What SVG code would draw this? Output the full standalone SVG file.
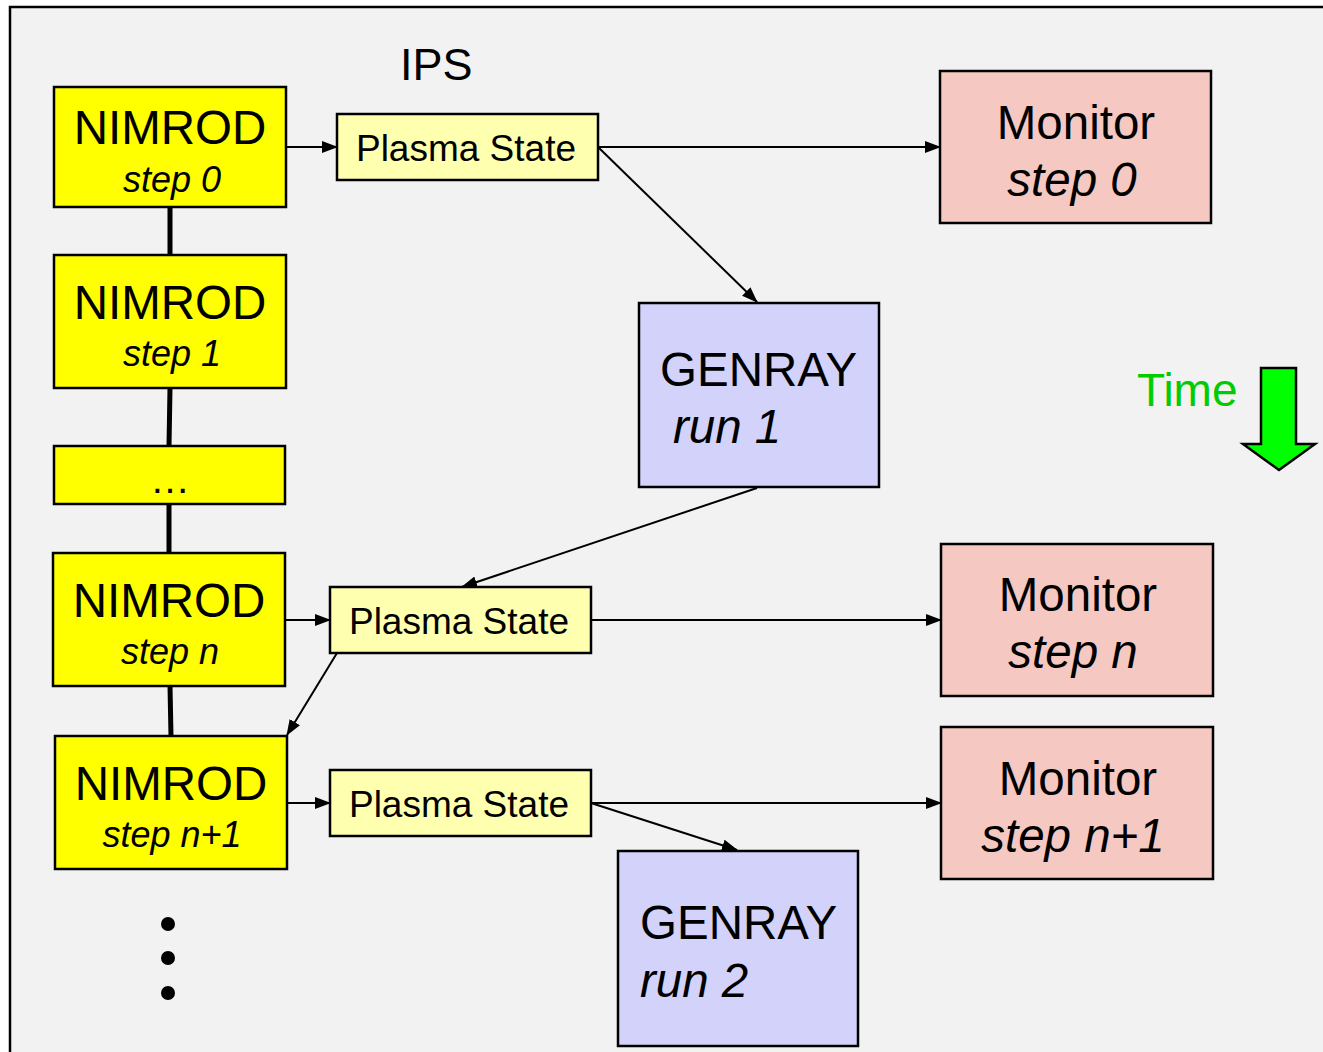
<svg xmlns="http://www.w3.org/2000/svg" width="1323" height="1052" viewBox="0 0 1323 1052">
<defs>
<marker id="ah" markerWidth="16" markerHeight="12" refX="15" refY="6" orient="auto" markerUnits="userSpaceOnUse">
<path d="M0,0 L16,6 L0,12 Z" fill="#000"/>
</marker>
<style>
text{font-family:"Liberation Sans",Arial,sans-serif;fill:#000}
.box{stroke:#000;stroke-width:2.5}
.nim{fill:#ffff00}
.ps{fill:#ffffb0}
.mon{fill:#f5c8c2}
.gen{fill:#d2d2fa}
.big{font-size:47.5px}
.it{font-style:italic;font-size:36px}
.psl{font-size:37px}
.c{text-anchor:middle}
.conn line{stroke:#000;stroke-width:2;marker-end:url(#ah)}
.link{stroke:#000;stroke-width:5}
</style>
</defs>
<rect x="0" y="0" width="1323" height="1052" fill="#ffffff"/>
<rect x="10" y="7" width="1330" height="1060" fill="#f2f2f2" stroke="#000" stroke-width="2.5"/>
<text x="400" y="80" font-size="45">IPS</text>

<g id="links">
<line class="link" x1="170" y1="207" x2="170" y2="255"/>
<line class="link" x1="170" y1="388" x2="169" y2="446"/>
<line class="link" x1="169" y1="504" x2="169" y2="553"/>
<line class="link" x1="170" y1="686" x2="171" y2="736"/>
</g>

<g id="nimrod0"><rect class="box nim" x="54" y="87" width="232" height="120"/>
<text class="big c" x="170" y="144">NIMROD</text><text class="it c" x="172" y="192">step 0</text></g>
<g id="nimrod1"><rect class="box nim" x="54" y="255" width="232" height="133"/>
<text class="big c" x="170" y="319">NIMROD</text><text class="it c" x="172" y="366">step 1</text></g>
<g id="nimrodDots"><rect class="box nim" x="54" y="446" width="231" height="58"/>
<text class="c" x="170" y="493" font-size="40">…</text></g>
<g id="nimrodN"><rect class="box nim" x="53" y="553" width="232" height="133"/>
<text class="big c" x="169" y="617">NIMROD</text><text class="it c" x="170" y="664">step n</text></g>
<g id="nimrodN1"><rect class="box nim" x="55" y="736" width="232" height="133"/>
<text class="big c" x="171" y="800">NIMROD</text><text class="it c" x="172" y="847">step n+1</text></g>

<g id="dots">
<circle cx="168" cy="924" r="7"/><circle cx="168" cy="958" r="7"/><circle cx="168" cy="993" r="7"/>
</g>

<g id="ps1"><rect class="box ps" x="337" y="114" width="261" height="66"/>
<text class="psl c" x="466" y="161">Plasma State</text></g>
<g id="ps2"><rect class="box ps" x="330" y="587" width="261" height="66"/>
<text class="psl c" x="459" y="634">Plasma State</text></g>
<g id="ps3"><rect class="box ps" x="330" y="770" width="261" height="66"/>
<text class="psl c" x="459" y="817">Plasma State</text></g>

<g id="mon0"><rect class="box mon" x="940" y="71" width="271" height="152"/>
<text class="big c" x="1076" y="139">Monitor</text><text class="big c" x="1072" y="196" font-style="italic">step 0</text></g>
<g id="monN"><rect class="box mon" x="941" y="544" width="272" height="152"/>
<text class="big c" x="1078" y="611">Monitor</text><text class="big c" x="1073" y="668" font-style="italic">step n</text></g>
<g id="monN1"><rect class="box mon" x="941" y="727" width="272" height="152"/>
<text class="big c" x="1078" y="795">Monitor</text><text class="big c" x="1073" y="852" font-style="italic">step n+1</text></g>

<g id="genray1"><rect class="box gen" x="639" y="303" width="240" height="184"/>
<text class="big" x="660" y="386">GENRAY</text><text class="big" x="673" y="443" font-style="italic">run 1</text></g>
<g id="genray2"><rect class="box gen" x="618" y="851" width="240" height="195"/>
<text class="big" x="640" y="939">GENRAY</text><text class="big" x="640" y="997" font-style="italic">run 2</text></g>

<g id="connectors" class="conn">
<line x1="286" y1="147" x2="337" y2="147"/>
<line x1="598" y1="147" x2="940" y2="147"/>
<line x1="598" y1="147" x2="757" y2="302"/>
<line x1="757" y1="488" x2="462" y2="587"/>
<line x1="285" y1="620" x2="330" y2="620"/>
<line x1="591" y1="620" x2="941" y2="620"/>
<line x1="337" y1="653" x2="287" y2="735"/>
<line x1="287" y1="803" x2="330" y2="803"/>
<line x1="591" y1="803" x2="941" y2="803"/>
<line x1="591" y1="803" x2="737" y2="850"/>
</g>

<g id="time">
<text x="1137" y="406" font-size="46" style="fill:#00cc00">Time</text>
<path d="M1261,368 L1296,368 L1296,444 L1315,444 L1279,470 L1243,444 L1261,444 Z" fill="#00ff00" stroke="#000" stroke-width="2.5" stroke-linejoin="miter"/>
</g>
</svg>
